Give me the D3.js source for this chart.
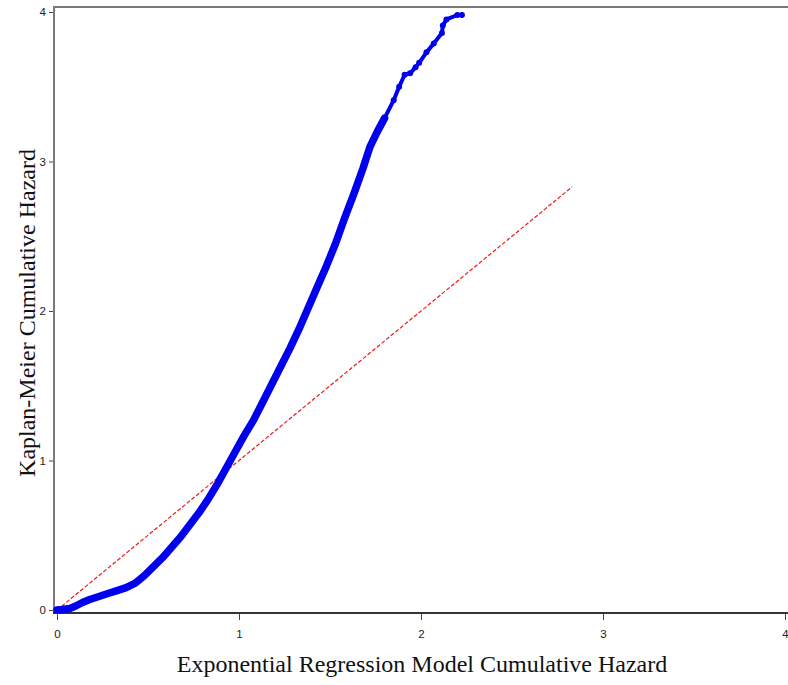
<!DOCTYPE html>
<html>
<head>
<meta charset="utf-8">
<script src="https://cdn.jsdelivr.net/npm/d3@7"></script>
<style>
  html, body { margin: 0; padding: 0; background: #fff; }
  svg { display: block; }
</style>
</head>
<body>
<svg id="chart" width="788" height="685"></svg>
<script>
// Exponential model cumulative hazard (x) vs Kaplan-Meier cumulative hazard (y)
const modelHazard = [0, 0.03, 0.07, 0.10, 0.14, 0.18, 0.23, 0.28, 0.33, 0.38, 0.43, 0.48,
  0.53, 0.58, 0.63, 0.68, 0.73, 0.78, 0.83, 0.88, 0.93, 0.98, 1.03, 1.08, 1.13,
  1.18, 1.23, 1.28, 1.33, 1.38, 1.43, 1.48, 1.53, 1.58, 1.63, 1.68, 1.72, 1.76,
  1.80, 1.85, 1.88, 1.91, 1.94, 1.97, 1.99, 2.03, 2.07, 2.115, 2.12, 2.14, 2.20, 2.225];
const kmHazard = [0, 0.003, 0.01, 0.025, 0.05, 0.07, 0.09, 0.11, 0.13, 0.15, 0.18, 0.23,
  0.29, 0.35, 0.42, 0.49, 0.57, 0.65, 0.74, 0.84, 0.95, 1.06, 1.17, 1.27, 1.39,
  1.51, 1.63, 1.75, 1.88, 2.02, 2.16, 2.30, 2.45, 2.62, 2.78, 2.95, 3.10, 3.20,
  3.29, 3.41, 3.50, 3.58, 3.59, 3.63, 3.66, 3.73, 3.79, 3.86, 3.91, 3.95, 3.98, 3.98];
// Reference line y = x
const refLine = [0, 2.83];
const tickValues = [0, 1, 2, 3, 4];

const svg = d3.select("#chart");

const x = d3.scaleLinear().domain([0, 4]).range([57, 785]);
const y = d3.scaleLinear().domain([0, 4]).range([610, 12]);

// Frame lines
svg.append("line").attr("x1", 54).attr("x2", 788).attr("y1", 7).attr("y2", 7)
  .attr("stroke", "#7a7a7a").attr("stroke-width", 2);
svg.append("line").attr("x1", 54).attr("x2", 54).attr("y1", 6).attr("y2", 614)
  .attr("stroke", "#7a7a7a").attr("stroke-width", 2);
svg.append("line").attr("x1", 53).attr("x2", 788).attr("y1", 613).attr("y2", 613)
  .attr("stroke", "#333").attr("stroke-width", 2);

// Axes
const xAxis = svg.append("g").attr("transform", "translate(0,614)")
  .call(d3.axisBottom(x).tickValues(tickValues).tickSize(6).tickPadding(10).tickFormat(d3.format("d")));
const yAxis = svg.append("g").attr("transform", "translate(53,0)")
  .call(d3.axisLeft(y).tickValues(tickValues).tickSize(4).tickPadding(3).tickFormat(d3.format("d")));
[xAxis, yAxis].forEach(g => {
  g.select(".domain").remove();
  g.selectAll(".tick line").attr("stroke", "#444").attr("stroke-width", 1);
  g.selectAll(".tick text").attr("fill", "#222")
    .style("font-family", "'Liberation Sans', Arial, sans-serif").style("font-size", "11.5px");
});

// Reference line
svg.append("line")
  .attr("x1", x(refLine[0])).attr("y1", y(refLine[0]))
  .attr("x2", x(refLine[1])).attr("y2", y(refLine[1]))
  .attr("stroke", "#f01818").attr("stroke-width", 1.2).attr("stroke-dasharray", "4,2");

// Kaplan-Meier vs model curve
const pts = modelHazard.map((d, i) => [d, kmHazard[i]]);
const line = d3.line().x(d => x(d[0])).y(d => y(d[1]));
const dense = pts.filter(d => d[1] <= 3.3);
const sparse = pts.filter(d => d[1] >= 3.29);
svg.append("path").attr("d", line(dense)).attr("fill", "none")
  .attr("stroke", "#0000ee").attr("stroke-width", 7.5)
  .attr("stroke-linejoin", "round").attr("stroke-linecap", "round");
svg.append("path").attr("d", line(sparse)).attr("fill", "none")
  .attr("stroke", "#0000ee").attr("stroke-width", 4)
  .attr("stroke-linejoin", "round").attr("stroke-linecap", "round");
svg.append("g").selectAll("circle").data(sparse).join("circle")
  .attr("cx", d => x(d[0])).attr("cy", d => y(d[1])).attr("r", 3).attr("fill", "#0000ee");

// Axis titles
svg.append("text").attr("x", 422).attr("y", 672).attr("text-anchor", "middle")
  .style("font-family", "'Liberation Serif', 'Times New Roman', serif").style("font-size", "24px")
  .attr("fill", "#111").text("Exponential Regression Model Cumulative Hazard");
svg.append("text").attr("transform", "translate(35,313) rotate(-90)").attr("text-anchor", "middle")
  .style("font-family", "'Liberation Serif', 'Times New Roman', serif").style("font-size", "24px")
  .attr("fill", "#111").text("Kaplan-Meier Cumulative Hazard");
</script>
</body>
</html>
